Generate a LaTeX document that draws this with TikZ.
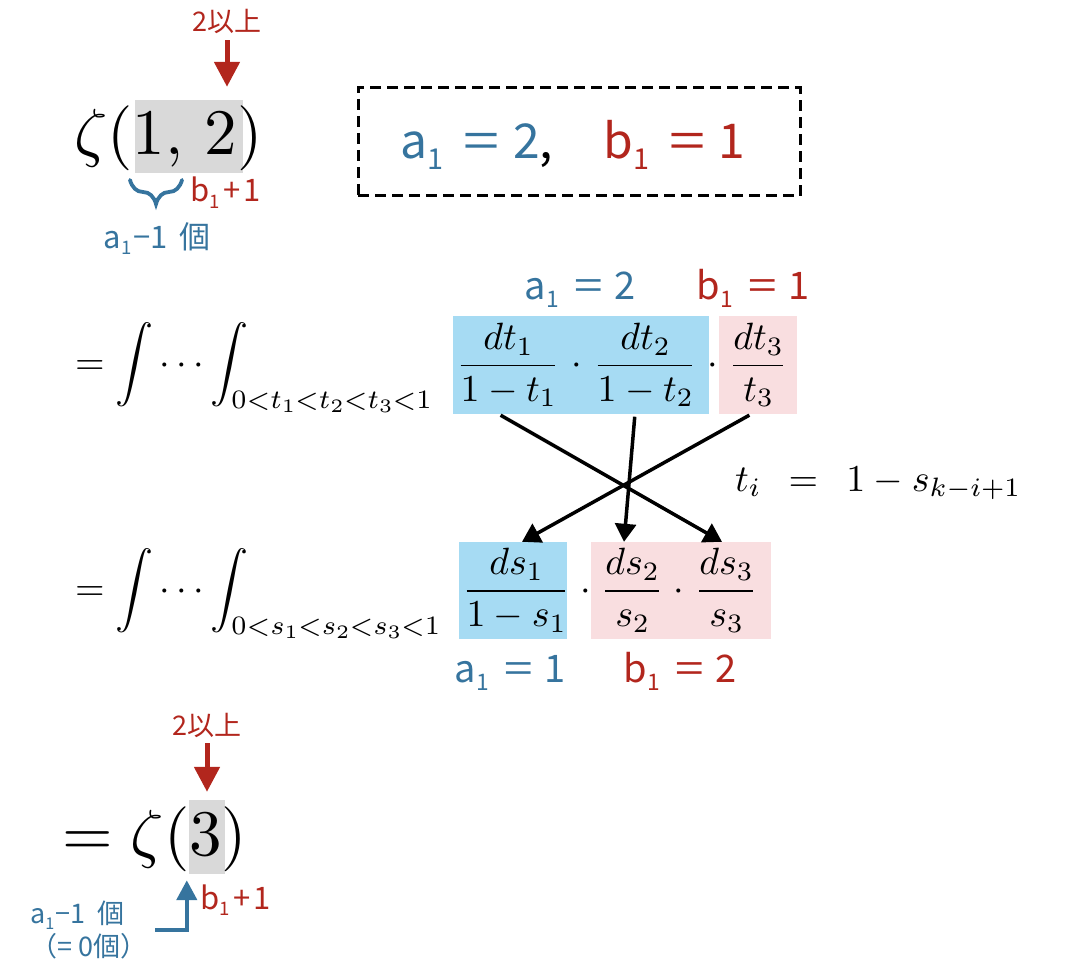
\documentclass[tikz,border=0pt]{standalone}
\usepackage{amsmath}
\usepackage{graphicx}
\usepackage[no-math]{fontspec}
\usetikzlibrary{arrows.meta,decorations.pathreplacing,calc}
\DeclareFontShape{OT1}{cmr}{m}{n}{<-22> cmr5 <22-30> cmr7 <30-> cmr10}{}
\DeclareFontShape{OML}{cmm}{m}{it}{<-22> cmmi5 <22-30> cmmi7 <30-> cmmi10}{}
\DeclareFontShape{OMS}{cmsy}{m}{n}{<-22> cmsy5 <22-30> cmsy7 <30-> cmsy10}{}
\DeclareFontShape{OMX}{cmex}{m}{n}{<-> cmex10}{}
\newfontfamily\jp{Noto Sans CJK JP}
\definecolor{lblblue}{HTML}{36749E}
\definecolor{lblred}{HTML}{B2261D}
\definecolor{boxblue}{HTML}{A6DBF3}
\definecolor{boxpink}{HTML}{F9DEE0}
\definecolor{hlgray}{HTML}{D9D9D9}
\newcommand\sbs[1]{\raisebox{-0.22em}{\scalebox{0.6}{#1}}}
\newcommand\eqs{\hspace{0.42em}\scalebox{1.35}[1]{=}\hspace{0.28em}}
\begin{document}
\begin{tikzpicture}[x=1pt,y=-1pt,
  mathbig/.style={font=\fontsize{65}{72}\selectfont, inner sep=0pt},
  mathmid/.style={font=\fontsize{38}{44}\selectfont, inner sep=0pt},
  frac/.style={mathmid, minimum height=97pt},
  lbl/.style={inner sep=0pt, font=\jp\fontsize{#1pt}{1.25\dimexpr #1pt\relax}\selectfont},
  lblB/.style={lbl=#1, text=lblblue},
  lblR/.style={lbl=#1, text=lblred},
  graybox/.style={fill=hlgray, draw=none, inner sep=0pt},
  bluebox/.style={fill=boxblue, draw=none, inner sep=0pt},
  pinkbox/.style={fill=boxpink, draw=none, inner sep=0pt},
  dashbox/.style={draw=black, line width=3pt, dash pattern=on 11pt off 6pt, inner sep=0pt},
  redarr/.style={draw=lblred, line width=5pt, -{Triangle[length=25pt,width=25pt]}},
  bluearr/.style={draw=lblblue, line width=4.5pt, -{Triangle[length=20pt,width=20pt]}},
  xarr/.style={draw=black, line width=3.5pt, -{Triangle[length=18pt,width=21pt]}, shorten <=3pt},
  bracestyle/.style={draw=lblblue, line width=3.8pt, line cap=round, decorate, decoration={brace, amplitude=24pt}}
]
\useasboundingbox (0,0) rectangle (1078,968);

% ---- top: zeta(1,2)
\node[graybox, minimum width=108pt, minimum height=73pt] (g1) at (189,136.5) {};
\node[mathbig, anchor=base west] (z1) at (74,155) {$\zeta(1,\,2)$};
\node[lblR=27, anchor=base] (up1) at (227,32) {2以上};
\draw[redarr, shorten <=6pt, shorten >=13pt] (up1.south) -- (up1.south |- g1.north);
\node[lblR=31, anchor=base west] (bp1) at (190,202) {b\sbs{1}\hspace{0.12em}+\hspace{0.08em}1};
\coordinate (br1) at (182,180);
\coordinate (br2) at (130,180);
\draw[bracestyle] (br1) -- (br2);
\node[lblB=31, anchor=base] (am1) at (157,248) {a\sbs{1}\hspace{0.05em}−1\hspace{0.15em} 個};

% ---- dashed box
\node[dashbox, minimum width=442pt, minimum height=108pt] (db) at (579,142) {};
\node[lbl=48, anchor=base] (dbt) at (573,159) {\textcolor{lblblue}{a\sbs{1}\eqs 2},\hspace{1.05em}\textcolor{lblred}{b\sbs{1}\eqs 1}};

% ---- row 1
\node[mathmid, anchor=base west] (int1) at (75,374) {$\displaystyle =\int\cdots\int_{0<t_1<t_2<t_3<1}$};
\node[bluebox, minimum width=256pt, minimum height=98pt] (tb) at (581,365) {};
\node[pinkbox, minimum width=78pt, minimum height=98pt] (tp) at (758,365) {};
\node[frac] (t1) at (508,365) {$\dfrac{dt_1}{1-t_1}$};
\node[mathmid, anchor=base] (d1) at (577,374) {$\cdot$};
\node[frac] (t2) at (645,365) {$\dfrac{dt_2}{1-t_2}$};
\node[mathmid, anchor=base] (d2) at (713,374) {$\cdot$};
\node[frac] (t3) at (758,365) {$\dfrac{dt_3}{t_3}$};
\node[lblB=38, anchor=base] (la1) at (580,299) {a\sbs{1}\eqs 2};
\node[lblR=38, anchor=base] (lb1) at (753,299) {b\sbs{1}\eqs 1};

% ---- row 2
\node[mathmid, anchor=base west] (int2) at (75,600) {$\displaystyle =\int\cdots\int_{0<s_1<s_2<s_3<1}$};
\node[bluebox, minimum width=108pt, minimum height=97pt] (sb) at (513,590.5) {};
\node[pinkbox, minimum width=180pt, minimum height=97pt] (sp) at (681,590.5) {};
\node[frac] (s1) at (516,590.5) {$\dfrac{ds_1}{1-s_1}$};
\node[mathmid, anchor=base] (d3) at (586,600) {$\cdot$};
\node[frac] (s2) at (632,590.5) {$\dfrac{ds_2}{s_2}$};
\node[mathmid, anchor=base] (d4) at (679,600) {$\cdot$};
\node[frac] (s3) at (726,590.5) {$\dfrac{ds_3}{s_3}$};
\node[lblB=38, anchor=base] (la2) at (510,682) {a\sbs{1}\eqs 1};
\node[lblR=38, anchor=base] (lb2) at (680,682) {b\sbs{1}\eqs 2};

% ---- crossing arrows
\draw[xarr] ([xshift=-10pt]t1.south) -- ([xshift=-4pt]s3.north);
\draw[xarr] ([xshift=-10pt]t2.south) -- ([xshift=-8pt]s2.north);
\draw[xarr] ([xshift=-6pt]t3.south) -- ([xshift=6pt]s1.north);
\node[mathmid, anchor=base west] (tr) at (735,491) {$t_i\ \,=\ \,1-s_{k-i+1}$};

% ---- bottom: zeta(3)
\node[graybox, minimum width=36pt, minimum height=74pt] (g2) at (207,837) {};
\node[mathbig, anchor=base west] (z3) at (62,855) {$=\zeta(3)$};
\node[lblR=27, anchor=base] (up2) at (207,735) {2以上};
\draw[redarr, shorten <=6pt, shorten >=8pt] (up2.south) -- (up2.south |- g2.north);
\node[lblR=31, anchor=base west] (bp2) at (200,909) {b\sbs{1}\hspace{0.12em}+\hspace{0.08em}1};
\node[lblB=27, align=left, anchor=west] (zl) at (30,930) {a\sbs{1}\hspace{0.05em}−1\hspace{0.2em} 個\\（= 0個）};
\draw[bluearr, shorten <=8pt, shorten >=6pt] (zl.east) -| ([xshift=-2pt]g2.south west);
\end{tikzpicture}
\end{document}
